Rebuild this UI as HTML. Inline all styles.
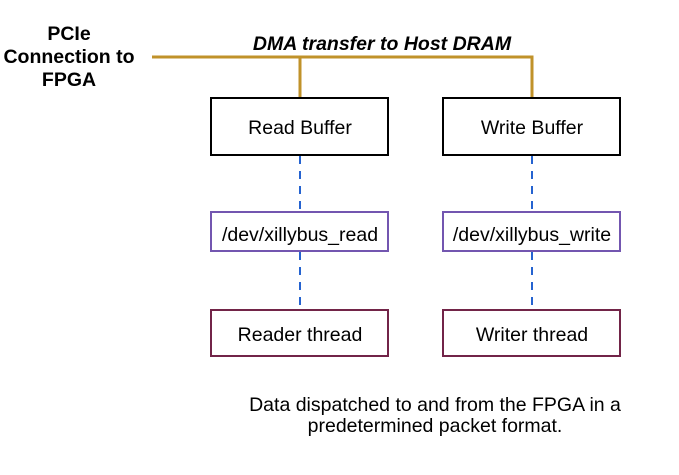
<!DOCTYPE html>
<html><head><style>body{margin:0;background:#fff}</style></head><body>
<svg width="679" height="470" xmlns="http://www.w3.org/2000/svg" font-family="Liberation Sans, sans-serif">
<rect width="679" height="470" fill="#fff"/>
<g stroke="#c0922a" stroke-width="3" fill="none">
<path d="M152 57 H532 V97"/><path d="M300 57 V97"/>
</g>
<g stroke="#2563d0" stroke-width="2" stroke-dasharray="8,7">
<path d="M300 156 V212"/><path d="M532 156 V212"/>
<path d="M300 252 V310"/><path d="M532 252 V310"/>
</g>
<g fill="#fff" stroke-width="2">
<rect x="211" y="98" width="177" height="57" stroke="#000"/>
<rect x="443" y="98" width="177" height="57" stroke="#000"/>
<rect x="211" y="212" width="177" height="39" stroke="#7356b0"/>
<rect x="443" y="212" width="177" height="39" stroke="#7356b0"/>
<rect x="211" y="310" width="177" height="46" stroke="#722448"/>
<rect x="443" y="310" width="177" height="46" stroke="#722448"/>
</g>
<g font-size="19.5" text-anchor="middle" fill="#000">
<text x="300" y="134">Read Buffer</text>
<text x="532" y="134">Write Buffer</text>
<text x="300" y="241">/dev/xillybus_read</text>
<text x="532" y="241">/dev/xillybus_write</text>
<text x="300" y="341">Reader thread</text>
<text x="532" y="341">Writer thread</text>
<text x="435" y="411">Data dispatched to and from the FPGA in a</text>
<text x="435" y="432">predetermined packet format.</text>
</g>
<g font-size="19.5" font-weight="bold" text-anchor="middle">
<text x="69" y="40">PCIe</text>
<text x="69" y="63">Connection to</text>
<text x="69" y="86">FPGA</text>
<text x="382" y="50" font-style="italic">DMA transfer to Host DRAM</text>
</g>
</svg>
</body></html>
